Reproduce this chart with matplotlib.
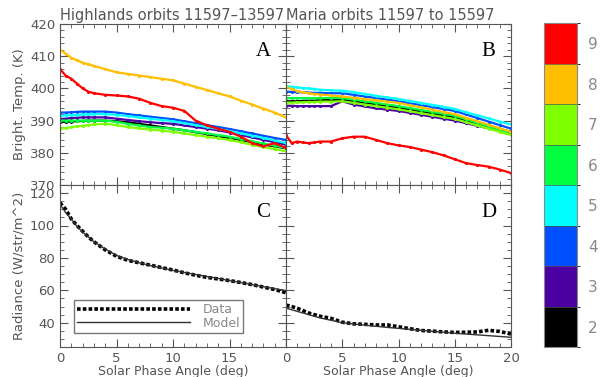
import numpy as np
import matplotlib
matplotlib.use("Agg")
import matplotlib.pyplot as plt
from matplotlib.colors import ListedColormap, BoundaryNorm
from matplotlib.ticker import MultipleLocator, FuncFormatter

# --- data ---
phase = [0, 0.5, 1, 1.5, 2, 2.5, 3, 4, 5, 6, 7, 8, 9, 10, 11, 12, 13, 14, 15, 16, 17, 18, 19, 20]

cb_labels = ['2', '3', '4', '5', '6', '7', '8', '9']
cb_colors = ['#000000', '#4c00a4', '#0050ff', '#00ffff', '#00ff40', '#80ff00', '#ffbf00', '#ff0000']

# highlands brightness temperature (K), one list per colour index
high_2 = [389.5, 389.6, 389.7, 389.8, 389.9, 390.0, 390.0, 390.0, 389.8, 389.5, 389.0, 388.5, 388.0, 387.5, 387.0, 386.4, 385.8, 385.2, 384.6, 384.0, 383.3, 382.6, 382.0, 381.4]
high_3 = [390.5, 390.6, 390.8, 390.9, 391.0, 391.0, 391.0, 391.0, 390.6, 390.2, 389.8, 389.5, 389.2, 389.0, 388.5, 388.0, 387.5, 387.0, 386.3, 385.5, 384.8, 384.0, 383.3, 382.5]
high_4 = [392.5, 392.5, 392.6, 392.7, 392.8, 392.8, 392.8, 392.8, 392.5, 392.0, 391.6, 391.2, 390.8, 390.4, 389.8, 389.2, 388.6, 388.0, 387.4, 386.7, 386.0, 385.3, 384.6, 384.0]
high_5 = [391.5, 391.6, 391.7, 391.8, 391.9, 392.0, 392.0, 392.0, 391.8, 391.4, 391.0, 390.6, 390.2, 389.8, 389.2, 388.6, 388.0, 387.4, 386.7, 386.0, 385.3, 384.6, 383.8, 383.0]
high_6 = [390.0, 390.0, 390.0, 390.0, 390.0, 390.0, 390.0, 390.0, 389.6, 389.0, 388.5, 388.0, 387.8, 387.5, 387.0, 386.5, 386.0, 385.5, 385.0, 384.3, 383.6, 382.9, 382.2, 381.5]
high_7 = [387.5, 387.7, 388.0, 388.2, 388.4, 388.6, 388.8, 389.0, 388.6, 388.0, 387.6, 387.2, 386.9, 386.5, 386.0, 385.5, 385.0, 384.5, 384.0, 383.3, 382.5, 381.8, 381.1, 380.5]
high_8 = [412.0, 410.8, 409.5, 408.7, 408.0, 407.5, 407.0, 406.0, 405.0, 404.5, 404.0, 403.5, 403.0, 402.5, 401.5, 400.5, 399.5, 398.5, 397.5, 396.2, 395.0, 393.7, 392.5, 391.0]
high_9 = [406.0, 404.0, 403.0, 401.5, 400.0, 399.0, 398.5, 398.0, 397.8, 397.5, 396.8, 395.5, 394.5, 394.0, 393.0, 390.0, 388.5, 387.5, 386.5, 385.0, 383.0, 382.0, 383.0, 381.5]

# maria brightness temperature (K)
mare_2 = [396.0, 396.0, 396.0, 396.1, 396.2, 396.2, 396.3, 396.4, 396.5, 396.0, 395.5, 395.0, 394.5, 394.0, 393.4, 392.8, 392.2, 391.6, 391.0, 390.1, 389.2, 388.3, 387.4, 386.5]
mare_3 = [394.6, 394.6, 394.5, 394.5, 394.5, 394.5, 394.5, 394.5, 396.0, 395.0, 394.4, 393.8, 393.4, 393.0, 392.4, 391.8, 391.2, 390.6, 390.0, 389.2, 388.4, 387.6, 386.8, 386.0]
mare_4 = [399.0, 398.9, 398.8, 398.8, 398.7, 398.6, 398.6, 398.5, 398.5, 398.0, 397.5, 397.0, 396.5, 396.0, 395.4, 394.8, 394.2, 393.6, 393.0, 391.9, 390.8, 389.7, 388.6, 387.5]
mare_5 = [400.7, 400.5, 400.3, 400.1, 400.0, 399.8, 399.6, 399.4, 399.3, 398.8, 398.3, 397.7, 397.2, 396.7, 396.1, 395.5, 394.9, 394.3, 393.6, 392.6, 391.6, 390.7, 389.7, 388.8]
mare_6 = [397.0, 397.0, 397.0, 397.0, 397.0, 397.0, 397.0, 397.0, 397.0, 396.5, 396.0, 395.5, 395.0, 394.5, 393.9, 393.3, 392.7, 392.1, 391.5, 390.4, 389.3, 388.2, 387.1, 386.0]
mare_7 = [395.6, 395.6, 395.7, 395.7, 395.8, 395.8, 395.9, 395.9, 396.0, 395.5, 395.0, 394.5, 394.0, 393.5, 392.9, 392.3, 391.7, 391.1, 390.5, 389.5, 388.5, 387.5, 386.5, 385.5]
mare_8 = [400.5, 399.8, 399.2, 398.8, 398.5, 398.3, 398.1, 397.8, 397.5, 397.1, 396.7, 396.3, 395.9, 395.5, 394.8, 394.1, 393.4, 392.7, 392.0, 390.9, 389.8, 388.7, 387.6, 386.5]
mare_9 = [385.5, 383.0, 383.5, 383.2, 383.0, 383.2, 383.5, 383.5, 384.5, 385.0, 385.0, 384.0, 383.0, 382.3, 381.8, 381.0, 380.2, 379.2, 378.0, 376.8, 376.2, 375.7, 374.8, 373.7]

# radiance (W/str/m^2)
high_data = [114.0, 110.0, 104.0, 100.0, 96.5, 93.0, 90.0, 85.0, 81.0, 78.5, 77.0, 75.5, 74.0, 72.5, 70.8, 69.3, 68.0, 67.0, 66.0, 64.8, 63.5, 62.0, 60.5, 58.5]
high_model = [113.0, 108.0, 104.0, 99.5, 96.0, 93.0, 90.0, 85.5, 81.5, 79.0, 77.0, 75.3, 73.8, 72.3, 71.0, 69.7, 68.5, 67.3, 66.0, 64.8, 63.5, 62.2, 61.0, 59.8]
mare_data = [50.9, 50.0, 48.9, 47.5, 46.0, 45.0, 44.0, 42.7, 40.3, 39.3, 39.0, 38.6, 38.6, 37.5, 36.3, 35.2, 34.8, 34.3, 34.0, 34.1, 34.3, 35.3, 34.6, 33.0]
mare_model = [49.0, 48.0, 47.0, 46.0, 45.0, 44.0, 43.0, 41.5, 40.0, 39.2, 38.5, 37.8, 37.1, 36.5, 35.9, 35.3, 34.7, 34.1, 33.5, 33.0, 32.5, 32.0, 31.5, 31.0]

high_series = [high_2, high_3, high_4, high_5, high_6, high_7, high_8, high_9]
mare_series = [mare_2, mare_3, mare_4, mare_5, mare_6, mare_7, mare_8, mare_9]

grey = '#555555'
plt.rcParams['font.family'] = 'DejaVu Sans'

fig = plt.figure(figsize=(6.14, 3.77), dpi=100)
W, H = 614, 377


def box(x0, y0, x1, y1):
    return [x0 / W, 1 - y1 / H, (x1 - x0) / W, (y1 - y0) / H]


axA = fig.add_axes(box(60, 24, 286, 185))
axB = fig.add_axes(box(286, 24, 511, 185))
axC = fig.add_axes(box(60, 185, 286, 347))
axD = fig.add_axes(box(286, 185, 511, 347))
cax = fig.add_axes(box(544, 23, 577, 347))

for ax, series in [(axA, high_series), (axB, mare_series)]:
    for vals, col in zip(series, cb_colors):
        ax.plot(phase, vals, color=col, lw=1.6, marker='.', ms=2.5)
    ax.set_ylim(370, 420)
    ax.yaxis.set_major_locator(MultipleLocator(10))
    ax.yaxis.set_minor_locator(MultipleLocator(2))

for ax, d, m in [(axC, high_data, high_model), (axD, mare_data, mare_model)]:
    ax.plot(phase, d, color='black', lw=2.6, ls=(0, (1, 0.6)), label='Data')
    ax.plot(phase, m, color='#333333', lw=1.0, label='Model')
    ax.set_ylim(25, 125)
    ax.yaxis.set_major_locator(MultipleLocator(20))
    ax.yaxis.set_minor_locator(MultipleLocator(5))

for ax in [axA, axB, axC, axD]:
    ax.set_xlim(0, 20)
    ax.xaxis.set_major_locator(MultipleLocator(5))
    ax.xaxis.set_minor_locator(MultipleLocator(1))
    ax.tick_params(which='both', direction='in', top=True, right=True,
                   colors=grey, labelsize=9.5)
    ax.tick_params(which='major', length=6)
    ax.tick_params(which='minor', length=3)
    for s in ax.spines.values():
        s.set_color(grey)

for ax in [axA, axB]:
    ax.tick_params(labelbottom=False)
for ax in [axB, axD]:
    ax.tick_params(labelleft=False)

# the 20 of panel C is left out, panel D's 0 stands there
axC.xaxis.set_major_formatter(FuncFormatter(lambda v, p: '' if v >= 20 else '%d' % v))

axA.set_ylabel('Bright. Temp. (K)', color=grey, fontsize=9.5, labelpad=3)
axC.set_ylabel('Radiance (W/str/m^2)', color=grey, fontsize=9.5, labelpad=3)
axC.set_xlabel('Solar Phase Angle (deg)', color=grey, fontsize=9, labelpad=0)
axD.set_xlabel('Solar Phase Angle (deg)', color=grey, fontsize=9, labelpad=0)

axA.set_title('Highlands orbits 11597\u201313597', color=grey, fontsize=10.5, loc='left', pad=3)
axB.set_title('Maria orbits 11597 to 15597', color=grey, fontsize=10.5, loc='left', pad=3)

for ax, letter in [(axA, 'A'), (axB, 'B'), (axC, 'C'), (axD, 'D')]:
    ax.text(0.9, 0.83, letter, transform=ax.transAxes, ha='center', va='center',
            fontsize=15, family='Liberation Serif', color='black')

leg = axC.legend(loc='lower left', handlelength=9, fontsize=9,
                 frameon=True, fancybox=False, borderpad=0.25, labelspacing=0.05,
                 handletextpad=1.0, bbox_to_anchor=(0.035, 0.05))
leg.get_frame().set_edgecolor(grey)
for t in leg.get_texts():
    t.set_color('#888888')

cmap = ListedColormap(cb_colors)
norm = BoundaryNorm(np.arange(1.5, 10.5, 1), cmap.N)
sm = matplotlib.cm.ScalarMappable(norm=norm, cmap=cmap)
cb = fig.colorbar(sm, cax=cax, ticks=np.arange(2, 10))
cb.set_ticklabels(cb_labels)
cb.ax.tick_params(length=0, colors='#888888', labelsize=11, pad=8)
cb.outline.set_edgecolor('#888888')
cb.ax.hlines(np.arange(2.5, 9.5, 1), 0, 1, colors='#555555', lw=0.5, transform=cb.ax.get_yaxis_transform())

fig.savefig('out.png', dpi=100)
